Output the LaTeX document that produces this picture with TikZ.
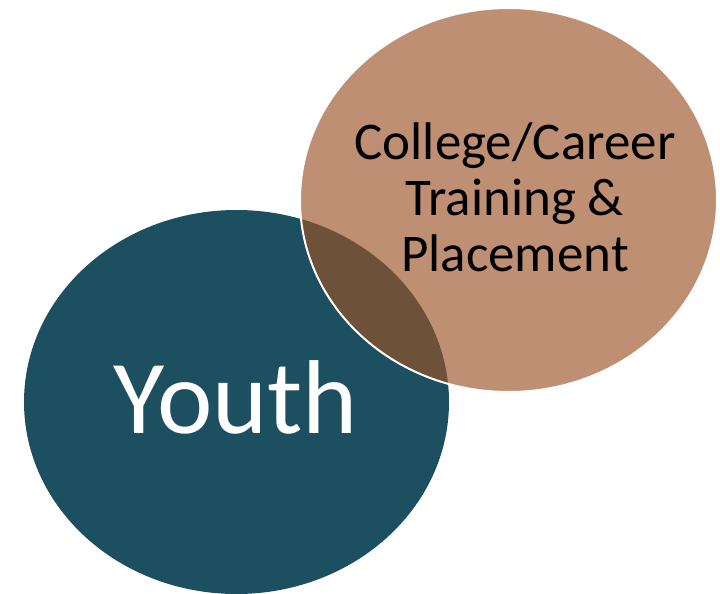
\documentclass[tikz,border=0pt]{standalone}
\usepackage{fontspec}
\setmainfont{Carlito}
\definecolor{tealc}{HTML}{1C4F60}
\definecolor{tanc}{HTML}{BE8F72}
\definecolor{darkc}{HTML}{6D5139}
\begin{document}
\begin{tikzpicture}[x=1pt,y=-1pt,
  lbl/.style={align=center,inner sep=0pt}]
\useasboundingbox (0,0) rectangle (720,594);
\fill[tealc] (236.5,402) ellipse [x radius=212.5, y radius=192];
\fill[tanc] (508.5,200) ellipse [x radius=208.5, y radius=192];
\begin{scope}
\clip (236.5,402) ellipse [x radius=212.5, y radius=192];
\fill[darkc] (508.5,200) ellipse [x radius=208.5, y radius=192];
\end{scope}
\draw[white,line width=2pt] (508.5,200) ellipse [x radius=208.5, y radius=192];
\node[lbl,font=\fontsize{53}{56}\selectfont] (career) at (515,197) {College/Career\\Training \&\\Placement};
\node[lbl,font=\fontsize{105}{110}\selectfont,text=white] (youth) at (236,397) {Youth};
\end{tikzpicture}
\end{document}
